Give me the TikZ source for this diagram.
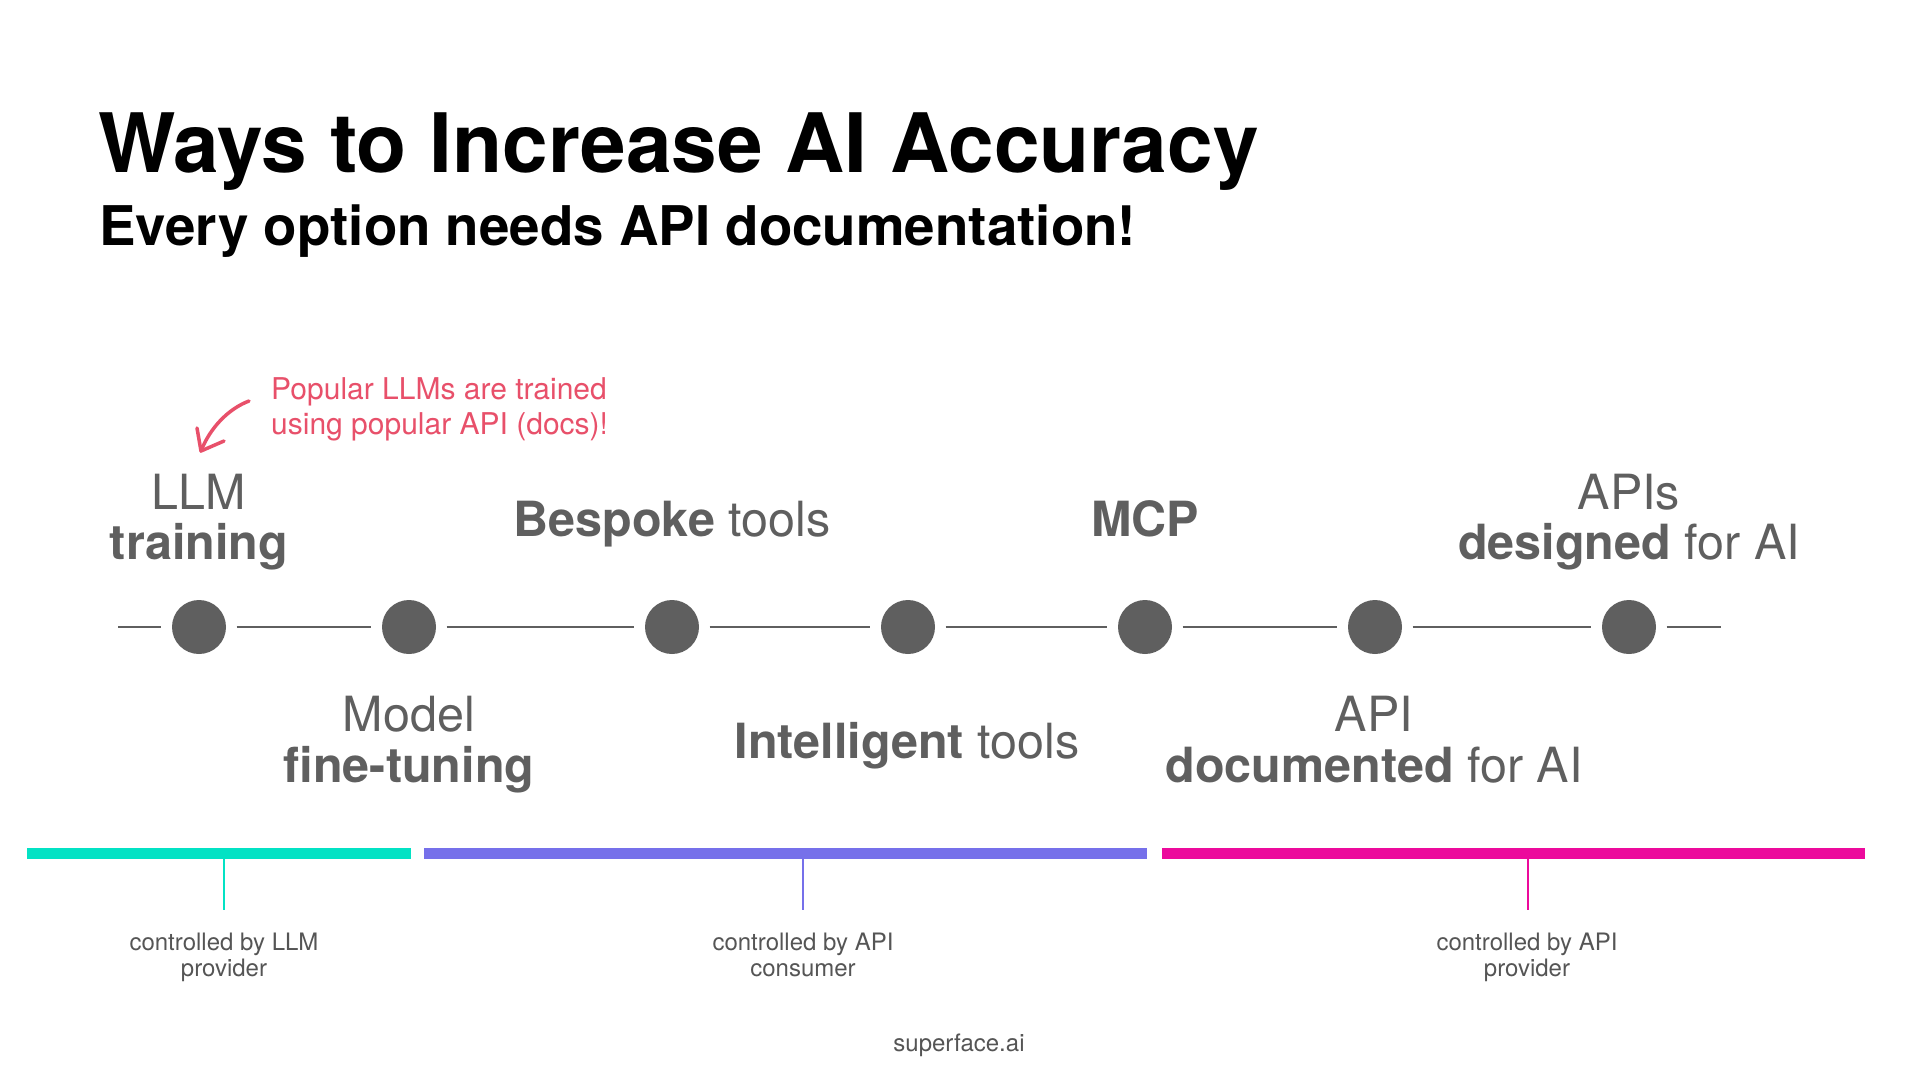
\documentclass[tikz,border=0pt]{standalone}
\usepackage{fontspec}
\setmainfont{TeX Gyre Heros}
\definecolor{dotgray}{RGB}{95,95,95}
\definecolor{labgray}{RGB}{85,85,85}
\definecolor{annred}{RGB}{232,80,106}
\definecolor{teal}{RGB}{3,226,196}
\definecolor{violet}{RGB}{118,112,234}
\definecolor{magenta}{RGB}{236,10,156}
\tikzset{
  dot/.style={circle,fill=dotgray,draw=none,minimum size=54pt,inner sep=0pt},
  seg/.style={draw=dotgray,line width=2pt,shorten <=10.5pt,shorten >=10.5pt},
  lab/.style={anchor=base,inner sep=0pt,text=dotgray,font=\fontsize{48.5}{50}\selectfont},
  ann/.style={anchor=base west,inner sep=0pt,text=annred,font=\fontsize{30}{34}\selectfont},
  small/.style={anchor=base,inner sep=0pt,text=labgray,font=\fontsize{24}{26}\selectfont},
  tick/.style={line width=2pt}
}
\begin{document}
\begin{tikzpicture}[x=1pt,y=-1pt]
\useasboundingbox[fill=white] (0,0) rectangle (1920,1080);
% titles
\node[anchor=base west,inner sep=0pt,font=\fontsize{82}{90}\selectfont\bfseries] (title) at (98,172) {Ways to Increase AI Accuracy};
\node[anchor=base west,inner sep=0pt,font=\fontsize{54.7}{60}\selectfont\bfseries] (subtitle) at (99,245) {Every option needs API documentation!};
% timeline
\node[dot] (c1) at (199,627) {};
\node[dot] (c2) at (409,627) {};
\node[dot] (c3) at (672,627) {};
\node[dot] (c4) at (908,627) {};
\node[dot] (c5) at (1145,627) {};
\node[dot] (c6) at (1375,627) {};
\node[dot] (c7) at (1629,627) {};
\coordinate (L) at (118,627);
\coordinate (R) at (1721,627);
\draw[seg,shorten <=0pt] (L) -- (c1);
\draw[seg] (c1) -- (c2);
\draw[seg] (c2) -- (c3);
\draw[seg] (c3) -- (c4);
\draw[seg] (c4) -- (c5);
\draw[seg] (c5) -- (c6);
\draw[seg] (c6) -- (c7);
\draw[seg,shorten >=0pt] (c7) -- (R);
% labels
\node[lab] (l1a) at (199,509) {LLM};
\node[lab] (l1b) at (199,559) {\textbf{training}};
\node[lab] (l2a) at (409,731) {Model};
\node[lab] (l2b) at (409,782) {\textbf{fine-tuning}};
\node[lab] (l3) at (672,536) {\textbf{Bespoke} tools};
\node[lab] (l4) at (907,758) {\textbf{Intelligent} tools};
\node[lab] (l5) at (1145,536) {\textbf{MCP}};
\node[lab] (l6a) at (1374,731) {API};
\node[lab] (l6b) at (1374,782) {\textbf{documented} for AI};
\node[lab] (l7a) at (1629,509) {APIs};
\node[lab] (l7b) at (1629,559) {\textbf{designed} for AI};
% annotation
\node[ann] (a1) at (271,399) {Popular LLMs are trained};
\node[ann] (a2) at (271,434) {using popular API (docs)!};
\coordinate (arS) at (249,401);
\coordinate (arT) at (201,451);
\coordinate (arB1) at (197,428);
\coordinate (arB2) at (224,441);
\draw[annred,line width=3.5pt,line cap=round,line join=round] (arS) .. controls (228,409) and (210,428) .. (arT);
\draw[annred,line width=3.5pt,line cap=round,line join=round] (arB1) -- (arT) -- (arB2);
% bars
\fill[teal] (27,848) rectangle (411,859);
\fill[violet] (424,848) rectangle (1147,859);
\fill[magenta] (1162,848) rectangle (1865,859);
\coordinate (t1a) at (224,859); \coordinate (t1b) at (224,910);
\coordinate (t2a) at (803,859); \coordinate (t2b) at (803,910);
\coordinate (t3a) at (1528,859); \coordinate (t3b) at (1528,910);
\draw[tick,teal] (t1a) -- (t1b);
\draw[tick,violet] (t2a) -- (t2b);
\draw[tick,magenta] (t3a) -- (t3b);
\node[small] (b1a) at (224,950) {controlled by LLM};
\node[small] (b1b) at (224,976) {provider};
\node[small] (b2a) at (803,950) {controlled by API};
\node[small] (b2b) at (803,976) {consumer};
\node[small] (b3a) at (1527,950) {controlled by API};
\node[small] (b3b) at (1527,976) {provider};
\node[small] (foot) at (959,1051) {superface.ai};
\end{tikzpicture}
\end{document}
